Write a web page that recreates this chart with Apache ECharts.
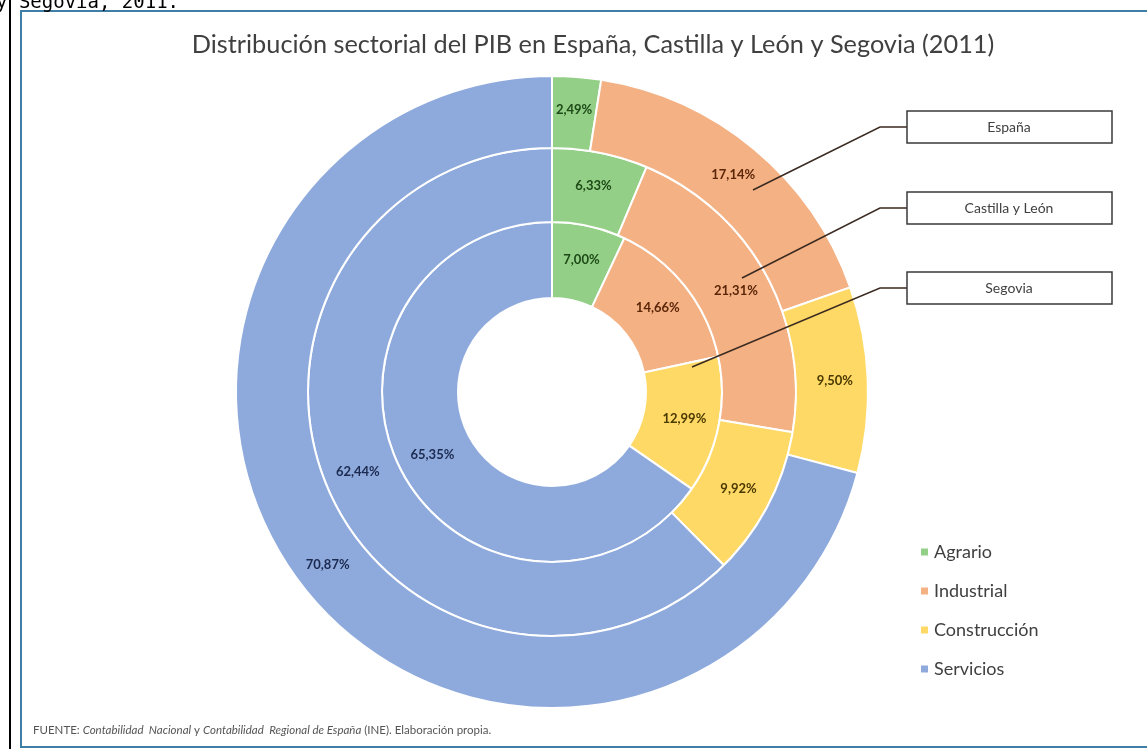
<!DOCTYPE html>
<html>
<head>
<meta charset="utf-8">
<script src="https://cdn.jsdelivr.net/npm/echarts@6/dist/echarts.min.js"></script>
<style>
  html, body { margin: 0; padding: 0; background: #fff; }
  #main { width: 1147px; height: 749px; }
</style>
</head>
<body>
<div id="main"></div>
<script>
// sectores y valores (%)
var sectores = ['Agrario', 'Industrial', 'Construcción', 'Servicios'];
var espana = [2.49, 17.14, 9.50, 70.87];
var castillaLeon = [6.33, 21.31, 9.92, 62.44];
var segovia = [7.00, 14.66, 12.99, 65.35];
var regiones = ['España', 'Castilla y León', 'Segovia'];

var colores = ['#93cf86', '#f4b184', '#ffd966', '#8eaadc'];
var coloresTexto = ['#1d4a17', '#5b2607', '#4a3a00', '#1c2a4f'];

function buildData(valores) {
    var res = [];
    for (var i = 0; i < valores.length; i++) {
        res.push({
            name: sectores[i],
            value: valores[i],
            itemStyle: { color: colores[i] },
            label: { color: coloresTexto[i] }
        });
    }
    return res;
}

function ring(nombre, valores, radio) {
    return {
        name: nombre,
        type: 'pie',
        center: [552, 392],
        radius: radio,
        startAngle: 90,
        clockwise: true,
        silent: true,
        avoidLabelOverlap: false,
        itemStyle: { borderColor: '#fff', borderWidth: 2 },
        label: {
            show: true,
            position: 'inside',
            fontFamily: 'Lato',
            fontWeight: 'bold',
            fontSize: 13,
            formatter: function (p) {
                return p.value.toFixed(2).replace('.', ',') + '%';
            }
        },
        labelLine: { show: false },
        data: buildData(valores)
    };
}

var myChart = echarts.init(document.getElementById('main'), null, { renderer: 'canvas' });

// cajas de las etiquetas de anillos
var cajas = [
    { y: 111, line: [[907, 127], [880, 127], [753, 190]] },
    { y: 192, line: [[907, 208], [880, 208], [742, 278]] },
    { y: 272, line: [[907, 288], [880, 288], [692, 367]] }
];
var graficos = [
    // marco exterior
    { type: 'line', z: 100, shape: { x1: 10, y1: 0, x2: 10, y2: 749 }, style: { stroke: '#000', lineWidth: 2 } },
    { type: 'rect', z: 100, shape: { x: 21, y: 11, width: 1160, height: 736 }, style: { fill: 'none', stroke: '#3f7ea6', lineWidth: 2 } },
    { type: 'text', z: 100, x: -4, y: 3, style: { text: 'y Segovia, 2011.', font: '19px "DejaVu Sans Mono"', fill: '#000', textVerticalAlign: 'middle' } },
    // fuente
    {
        type: 'text', z: 100, x: 33, y: 730,
        style: {
            text: '{n|FUENTE: }{i|Contabilidad  Nacional}{n| y }{i|Contabilidad  Regional de España}{n| (INE). Elaboración propia.}',
            textVerticalAlign: 'middle',
            rich: {
                n: { fontFamily: 'Lato', fontSize: 11.5, fill: '#555', color: '#555' },
                i: { fontFamily: 'Lato', fontSize: 11.5, fontStyle: 'italic', fill: '#555', color: '#555' }
            }
        }
    }
];
for (var k = 0; k < cajas.length; k++) {
    graficos.push({ type: 'polyline', z: 100, shape: { points: cajas[k].line }, style: { stroke: '#3b2a20', lineWidth: 1.5, fill: 'none' } });
    graficos.push({ type: 'rect', z: 100, shape: { x: 907, y: cajas[k].y, width: 205, height: 32 }, style: { fill: '#fff', stroke: '#3a3a3a', lineWidth: 1.5 } });
    graficos.push({ type: 'text', z: 101, x: 1009, y: cajas[k].y + 16, style: { text: regiones[k], font: '14px Lato', fill: '#404040', textAlign: 'center', textVerticalAlign: 'middle' } });
}

var option = {
    backgroundColor: '#fff',
    animation: false,
    title: {
        text: 'Distribución sectorial del PIB en España, Castilla y León y Segovia (2011)',
        left: 588,
        textAlign: 'center',
        top: 27,
        textStyle: { fontFamily: 'Lato', fontSize: 25.3, fontWeight: 'normal', color: '#404040' }
    },
    legend: {
        orient: 'vertical',
        left: 914,
        top: 538,
        itemGap: 21,
        itemWidth: 9,
        itemHeight: 9,
        icon: 'rect',
        data: sectores,
        textStyle: { fontFamily: 'Lato', fontSize: 18, color: '#404040' }
    },
    series: [
        ring('Segovia', segovia, [94, 170]),
        ring('Castilla y León', castillaLeon, [170, 244]),
        ring('España', espana, [244, 316])
    ],
    graphic: graficos
};

myChart.setOption(option);
</script>
</body>
</html>
